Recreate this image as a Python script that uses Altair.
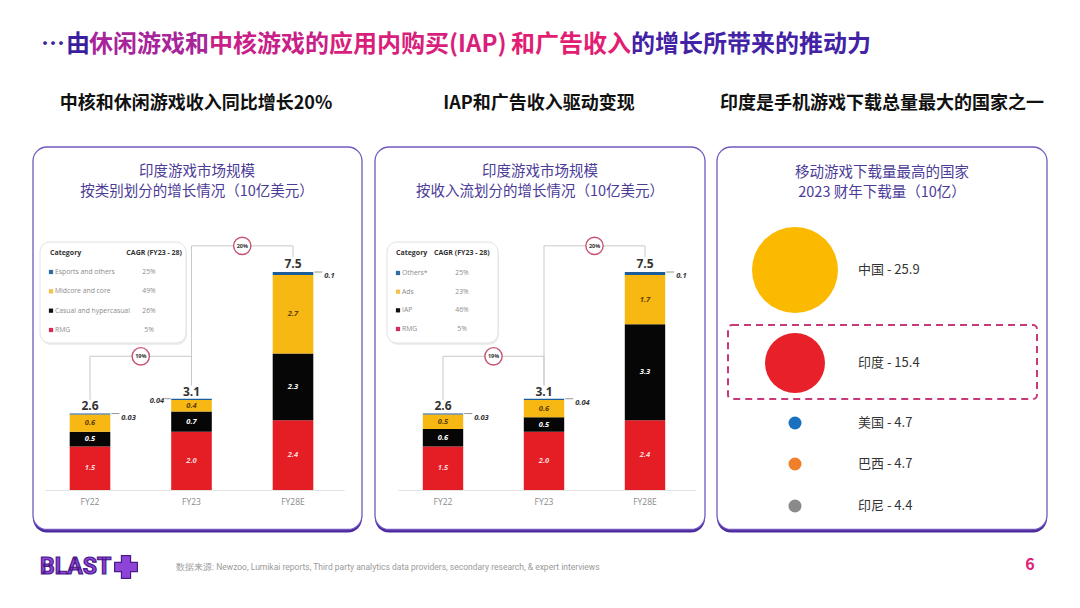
import altair as alt
import pandas as pd

# ------------------------------------------------------------------ data
YEARS = ["FY22", "FY23", "FY28E"]

CATS_1 = ["RMG", "Casual and hypercasual", "Midcore and core", "Esports and others"]
RMG_1 = [1.5, 2.0, 2.4]
CASUAL_1 = [0.5, 0.7, 2.3]
MIDCORE_1 = [0.6, 0.4, 2.7]
ESPORTS_1 = [0.03, 0.04, 0.1]
TOTALS_1 = [2.6, 3.1, 7.5]
CAGR_1 = ["5%", "26%", "49%", "25%"]

CATS_2 = ["RMG", "IAP", "Ads", "Others*"]
RMG_2 = [1.5, 2.0, 2.4]
IAP_2 = [0.6, 0.5, 3.3]
ADS_2 = [0.5, 0.6, 1.7]
OTHERS_2 = [0.03, 0.04, 0.1]
TOTALS_2 = [2.6, 3.1, 7.5]
CAGR_2 = ["5%", "46%", "23%", "25%"]

GROWTH = ["19%", "20%"]

COUNTRIES = ["中国", "印度", "美国", "巴西", "印尼"]
DOWNLOADS = [25.9, 15.4, 4.7, 4.7, 4.4]

# ------------------------------------------------------------------ style
CJK = "Noto Sans CJK SC"
NUM = "Open Sans"
SEG_COLORS = ["#E51E25", "#060606", "#F7B813", "#1D5C9B"]
LEG_COLORS = ["#D62A5A", "#111111", "#F2C14E", "#2E6DA4"]
TXT_COLORS = ["#FFD9D9", "#FFFFFF", "#5E4100", "#FFFFFF"]
BUBBLE_COLORS = ["#FBBA00", "#E8202A", "#1A6FBF", "#F07F2A", "#8A8A8A"]
W, H = 1064, 592


def P(v):
    return v - 8


ONE = pd.DataFrame({"k": [0]})


def txt(x, y, s, size, color, weight="normal", align="center", font=CJK, style="normal"):
    return alt.Chart(ONE).mark_text(
        text=s, fontSize=size, color=color, fontWeight=weight, align=align,
        baseline="middle", font=font, fontStyle=style
    ).encode(x=alt.value(P(x)), y=alt.value(P(y)))


def box(x0, y0, x1, y1, r, fill, stroke=None, sw=0, dash=None, fo=1.0):
    kw = dict(cornerRadius=r, fill=fill, fillOpacity=fo)
    if stroke:
        kw.update(stroke=stroke, strokeWidth=sw)
    if dash:
        kw.update(strokeDash=dash)
    return alt.Chart(ONE).mark_rect(**kw).encode(
        x=alt.value(P(x0)), x2=alt.value(P(x1)), y=alt.value(P(y0)), y2=alt.value(P(y1))
    )


def bar_panel(cats, series, totals, cagr, x0, x1, sides, legend):
    step = (x1 - x0) / 3.0
    bw = 0.4 * step
    xs = alt.Scale(type="band", domain=YEARS, range=[P(x0), P(x1)],
                   paddingInner=0.6, paddingOuter=0.3)
    ys = alt.Scale(type="linear", domain=[0, 7.5], range=[P(490), P(272)],
                   nice=False, zero=False)
    X = alt.X("year:N", scale=xs, axis=None)

    rows = []
    for ci, (c, vals) in enumerate(zip(cats, series)):
        for yi, yr in enumerate(YEARS):
            rows.append(dict(year=yr, cat=c, value=vals[yi], order=ci, tc=TXT_COLORS[ci]))
    df = pd.DataFrame(rows)
    base = alt.Chart(df).transform_stack(
        stack="value", as_=["v0", "v1"], groupby=["year"],
        sort=[alt.SortField(field="order", order="ascending")]
    )
    bars = base.mark_bar().encode(
        X, y=alt.Y("v0:Q", scale=ys, axis=None), y2=alt.Y2("v1:Q"),
        color=alt.Color("cat:N", scale=alt.Scale(domain=cats, range=SEG_COLORS), legend=None),
    )
    seglab = base.transform_filter("datum.value >= 0.2").transform_calculate(
        mid="(datum.v0 + datum.v1) / 2"
    ).mark_text(fontSize=7.5, fontStyle="italic", fontWeight="bold", font=NUM,
                baseline="middle").encode(
        X, y=alt.Y("mid:Q", scale=ys, axis=None),
        text=alt.Text("value:Q", format=".1f"),
        color=alt.Color("tc:N", scale=None),
    )

    dft = pd.DataFrame({"year": YEARS, "total": totals})
    tot = alt.Chart(dft).mark_text(dy=-8, fontSize=12, fontWeight="bold", color="#333333",
                                   font=NUM, baseline="middle").encode(
        X, y=alt.Y("total:Q", scale=ys, axis=None), text=alt.Text("total:Q", format=".1f"))
    xlab = alt.Chart(dft).mark_text(fontSize=8.5, color="#8A8A8A", font=NUM,
                                    baseline="middle").encode(
        X, y=alt.value(P(502)), text="year:N")
    baseline = alt.Chart(ONE).mark_rule(color="#E3E3E3", strokeWidth=1).encode(
        x=alt.value(P(x0) + 6), x2=alt.value(P(x1) + 1), y=alt.value(P(490.5)))

    # tiny top segment values with leader
    tops = [sum(s[i] for s in series) for i in range(3)]
    dfs = pd.DataFrame({"year": YEARS, "val": series[-1], "top": tops, "side": sides})
    sb = alt.Chart(dfs)
    Ytop = alt.Y("top:Q", scale=ys, axis=None)
    small_r = sb.transform_filter("datum.side == 'right'").mark_text(
        align="left", dx=bw / 2 + 11, dy=4, fontSize=7.5, fontStyle="italic",
        fontWeight="bold", color="#333333", font=NUM, baseline="middle").encode(
        X, y=Ytop, text=alt.Text("val:Q", format=".2~f"))
    small_l = sb.transform_filter("datum.side == 'left'").mark_text(
        align="right", dx=-(bw / 2 + 7), dy=2, fontSize=7.5, fontStyle="italic",
        fontWeight="bold", color="#333333", font=NUM, baseline="middle").encode(
        X, y=Ytop, text=alt.Text("val:Q", format=".2~f"))
    lead_r = sb.transform_filter("datum.side == 'right'").mark_tick(
        orient="horizontal", size=8, thickness=1, color="#666666",
        xOffset=bw / 2 + 5).encode(X, y=Ytop)
    lead_l = sb.transform_filter("datum.side == 'left'").mark_tick(
        orient="horizontal", size=6, thickness=1, color="#666666",
        xOffset=-(bw / 2 + 3.5)).encode(X, y=Ytop)

    # CAGR connectors
    OFF = 0.5
    LEVELS = [4.6, 8.4]
    crow = []
    for i in range(2):
        a, b = YEARS[i], YEARS[i + 1]
        pts = [(a, totals[i] + OFF), (a, LEVELS[i]), (b, LEVELS[i]), (b, totals[i + 1] + OFF)]
        for s, (yr, yv) in enumerate(pts):
            crow.append(dict(conn=i, seq=s, year=yr, yv=yv))
    conn = alt.Chart(pd.DataFrame(crow)).mark_line(color="#C9C9C9", strokeWidth=1).encode(
        X, y=alt.Y("yv:Q", scale=ys, axis=None), detail="conn:N", order="seq:Q")
    dfg = pd.DataFrame({"year": YEARS[:2], "lvl": LEVELS, "pct": GROWTH})
    gcirc = alt.Chart(dfg).mark_circle(size=300, color="white", opacity=1, stroke="#C65470",
                                       strokeWidth=1.4, xOffset=step / 2).encode(
        X, y=alt.Y("lvl:Q", scale=ys, axis=None))
    gtxt = alt.Chart(dfg).mark_text(dx=step / 2, fontSize=5.5, fontWeight="bold",
                                    color="#333333", font=NUM, baseline="middle").encode(
        X, y=alt.Y("lvl:Q", scale=ys, axis=None), text="pct:N")

    # legend table
    lx0, ly0, lx1, ly1, cat_x, sq_x, val_x, head_cagr_x, head_align, row0, row1 = legend
    dfl = pd.DataFrame({"cat": cats, "cagr": cagr})
    Yl = alt.Y("cat:N", scale=alt.Scale(type="point", domain=list(reversed(cats)),
                                         range=[P(row0), P(row1)], padding=0), axis=None)
    lshadow = box(lx0 + 1, ly0 + 2, lx1 + 1, ly1 + 2, 10, "#EDEDED")
    lbox = box(lx0, ly0, lx1, ly1, 10, "white", stroke="#E2E2E2", sw=1)
    h1 = txt(cat_x, 253, "Category", 7, "#333333", weight="bold", align="left", font=NUM)
    h2 = txt(head_cagr_x, 253, "CAGR (FY23 - 28)", 7, "#333333", weight="bold",
             align=head_align, font=NUM)
    lsq = alt.Chart(dfl).mark_square(size=18, opacity=1).encode(
        x=alt.value(P(sq_x)), y=Yl,
        color=alt.Color("cat:N", scale=alt.Scale(domain=cats, range=LEG_COLORS), legend=None))
    lcat = alt.Chart(dfl).mark_text(align="left", fontSize=6.8, color="#8C8C8C", font=NUM,
                                    baseline="middle").encode(
        x=alt.value(P(sq_x + 4)), y=Yl, text="cat:N")
    lval = alt.Chart(dfl).mark_text(align="center", fontSize=6.8, color="#8C8C8C", font=NUM,
                                    baseline="middle").encode(
        x=alt.value(P(val_x)), y=Yl, text="cagr:N")

    return [lshadow, lbox, h1, h2, lsq, lcat, lval, baseline, conn, bars, seglab, tot,
            xlab, lead_r, lead_l, small_r, small_l, gcirc, gtxt]


# ------------------------------------------------------------------ decor
layers = []
for (x0, x1) in [(33, 362), (375, 705), (717, 1047)]:
    layers.append(box(x0, 150, x1, 532.5, 14, "#4B2A9E"))
    layers.append(box(x0, 147, x1, 529.5, 14, "white", stroke="#7358BF", sw=1.3))

# header
layers += [
    txt(41, 45, "…", 24, "#3B2A9A", weight="bold", align="left"),
    txt(66, 45, "由", 24, "#3A1E9E", weight="bold", align="left"),
    txt(89, 45, "休闲游戏和", 24, "#A8249A", weight="bold", align="left"),
    txt(209, 45, "中核游戏的", 24, "#C81F88", weight="bold", align="left"),
    txt(329, 45, "应用内购买(IAP)", 24, "#D81F7C", weight="bold", align="left"),
    txt(631, 45, "和广告收入", 24, "#E21E72", weight="bold", align="right"),
    txt(631, 45, "的增长所带来的推动力", 24, "#4322A6", weight="bold", align="left"),
]
# column subtitles
layers += [
    txt(196, 104, "中核和休闲游戏收入同比增长20%", 18, "#111111", weight="bold"),
    txt(539, 104, "IAP和广告收入驱动变现", 18, "#111111", weight="bold"),
    txt(882, 104, "印度是手机游戏下载总量最大的国家之一", 18, "#111111", weight="bold"),
]
# panel titles
PT = "#4B3C98"
layers += [
    txt(197, 172, "印度游戏市场规模", 14.5, PT),
    txt(197, 192, "按类别划分的增长情况（10亿美元）", 14.5, PT),
    txt(540, 172, "印度游戏市场规模", 14.5, PT),
    txt(540, 192, "按收入流划分的增长情况（10亿美元）", 14.5, PT),
    txt(882, 173, "移动游戏下载量最高的国家", 14.5, PT),
    txt(882, 193, "2023 财年下载量（10亿）", 14.5, PT),
]

# ------------------------------------------------------------------ panel 1 & 2
layers += bar_panel(
    CATS_1, [RMG_1, CASUAL_1, MIDCORE_1, ESPORTS_1], TOTALS_1, CAGR_1,
    39.25, 343.75, ["right", "left", "right"],
    (40, 242, 186, 343, 50, 51, 149, 182, "right", 272, 330),
)
layers += bar_panel(
    CATS_2, [RMG_2, IAP_2, ADS_2, OTHERS_2], TOTALS_2, CAGR_2,
    392.5, 695.5, ["right", "right", "right"],
    (387, 242, 498, 343, 396, 398, 462, 434, "left", 273, 329),
)

# ------------------------------------------------------------------ panel 3
dfc = pd.DataFrame({"country": COUNTRIES, "value": DOWNLOADS,
                    "rank": list(range(len(COUNTRIES)))})
Yc = alt.Y("rank:Q", axis=None,
           scale=alt.Scale(type="linear", domain=[0, 1, 2, 3, 4],
                           range=[P(270), P(363), P(423), P(464), P(506)],
                           zero=False, nice=False))
layers.append(box(728, 325, 1037, 399, 4, "white", stroke="#C8397A", sw=2,
                  dash=[7, 5], fo=0))
layers.append(alt.Chart(dfc).mark_circle(opacity=1).encode(
    x=alt.value(P(795)), y=Yc,
    size=alt.Size("value:Q", legend=None,
                  scale=alt.Scale(type="linear", domain=[4.7, 15.4, 25.9],
                                  range=[169, 3600, 7396], clamp=True, zero=False,
                                  nice=False)),
    color=alt.Color("country:N", legend=None,
                    scale=alt.Scale(domain=COUNTRIES, range=BUBBLE_COLORS)),
))
layers.append(alt.Chart(dfc).transform_calculate(
    lbl="datum.country + ' - ' + format(datum.value, '.1f')"
).mark_text(align="left", fontSize=13, color="#333333", font=CJK, baseline="middle").encode(
    x=alt.value(P(858)), y=Yc, text="lbl:N"))

# ------------------------------------------------------------------ footer
layers += [
    alt.Chart(ONE).mark_text(text="BLAST", fontSize=23, fontWeight="bold",
                             font="Roboto", align="left",
                             baseline="middle", fill="#8E44D8", stroke="#4A1A86",
                             strokeWidth=1.2).encode(x=alt.value(P(40)), y=alt.value(P(567))),
    alt.Chart(ONE).mark_point(shape="cross", size=520, filled=True, fill="#8E44D8",
                              stroke="#4A1A86", strokeWidth=1.2, opacity=1).encode(
        x=alt.value(P(126)), y=alt.value(P(567))),
    txt(176, 567, "数据来源: Newzoo, Lumikai reports, Third party analytics data providers, "
        "secondary research, & expert interviews", 8.5, "#9A9A9A", align="left", font="Roboto"),
    txt(1030, 565, "6", 16, "#E0207A", weight="bold"),
]

chart = alt.layer(*layers).resolve_scale(
    x="independent", y="independent", color="independent", size="independent"
).properties(
    width=W, height=H, padding=0, background="white",
    autosize=alt.AutoSizeParams(type="none"),
).configure_view(stroke=None)

chart.save("out.html", embed_options={"renderer": "svg", "actions": False})
